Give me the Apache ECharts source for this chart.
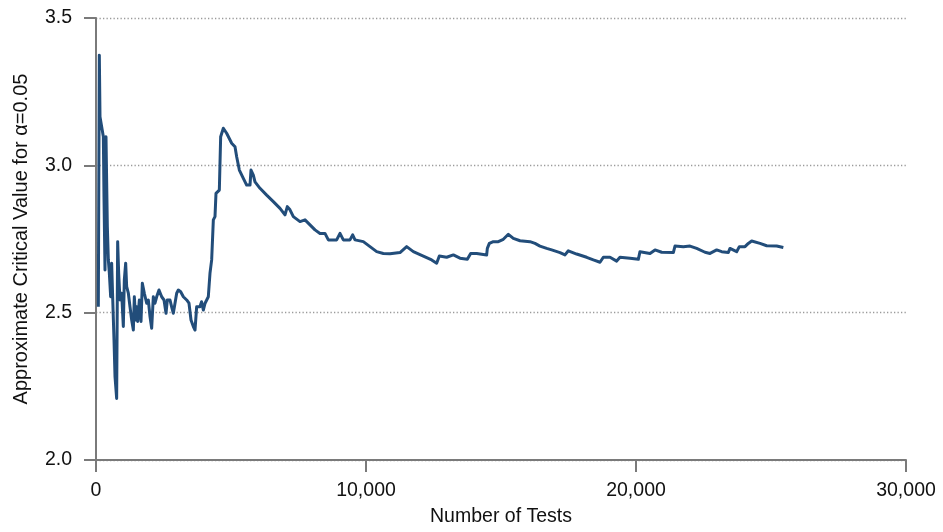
<!DOCTYPE html>
<html>
<head>
<meta charset="utf-8">
<script src="https://cdn.jsdelivr.net/npm/echarts@6/dist/echarts.min.js"></script>
<style>
  html, body { margin: 0; padding: 0; background: #fff; }
  #chart { width: 943px; height: 532px; }
</style>
</head>
<body>
<div id="chart"></div>
<script>
// Number of tests (x) and approximate critical value (y)
const tests = [
  86, 123, 148, 210, 272, 296, 333, 370, 420, 457,
  494, 543, 580, 617, 667, 704, 765, 802, 840, 889,
  951, 1012, 1049, 1099, 1136, 1198, 1259, 1321, 1383, 1420,
  1469, 1506, 1543, 1605, 1667, 1716, 1790, 1877, 1938, 2000,
  2062, 2123, 2185, 2247, 2333, 2432, 2519, 2593, 2642, 2741,
  2802, 2864, 2926, 2988, 3049, 3136, 3235, 3358, 3444, 3519,
  3605, 3667, 3728, 3790, 3850, 3910, 3975, 4040, 4100, 4160,
  4222, 4284, 4346, 4407, 4444, 4568, 4617, 4716, 4839, 5025,
  5148, 5210, 5309, 5457, 5580, 5704, 5741, 5827, 5889, 6074,
  6321, 6568, 6815, 7000, 7086, 7185, 7309, 7556, 7741, 7926,
  8111, 8173, 8296, 8481, 8605, 8914, 9037, 9160, 9407, 9506,
  9593, 9901, 10148, 10395, 10642, 10889, 11259, 11506, 11753, 12123,
  12432, 12617, 12716, 12988, 13235, 13481, 13753, 13877, 14099, 14469,
  14494, 14568, 14716, 14901, 15086, 15272, 15457, 15704, 16074, 16259,
  16444, 16691, 16877, 16938, 17185, 17370, 17494, 17802, 18173, 18420,
  18667, 18790, 19037, 19284, 19407, 19778, 20086, 20148, 20519, 20704,
  20951, 21383, 21444, 21753, 22000, 22247, 22556, 22741, 22988, 23173,
  23420, 23481, 23728, 23827, 24037, 24160, 24284, 24593, 24840, 25210,
  25457
];
const criticalValues = [
  2.520, 3.374, 3.165, 3.131, 3.097, 2.894, 2.645, 3.097, 2.792, 2.679,
  2.634, 2.554, 2.668, 2.554, 2.407, 2.283, 2.209, 2.741, 2.634, 2.543,
  2.566, 2.453, 2.611, 2.668, 2.588, 2.566, 2.520, 2.475, 2.441, 2.554,
  2.475, 2.520, 2.470, 2.543, 2.470, 2.600, 2.566, 2.532, 2.543, 2.487,
  2.447, 2.554, 2.532, 2.554, 2.577, 2.554, 2.543, 2.498, 2.543, 2.543,
  2.520, 2.498, 2.532, 2.566, 2.577, 2.571, 2.554, 2.543, 2.532, 2.475,
  2.453, 2.441, 2.520, 2.525, 2.520, 2.537, 2.509, 2.532, 2.543, 2.554,
  2.634, 2.679, 2.815, 2.826, 2.905, 2.916, 3.097, 3.126, 3.109, 3.075,
  3.063, 3.029, 2.984, 2.956, 2.933, 2.933, 2.984, 2.967, 2.944, 2.922,
  2.899, 2.877, 2.854, 2.832, 2.860, 2.849, 2.826, 2.809, 2.815, 2.798,
  2.781, 2.786, 2.769, 2.769, 2.747, 2.747, 2.769, 2.747, 2.747, 2.764,
  2.747, 2.741, 2.724, 2.707, 2.701, 2.700, 2.704, 2.724, 2.707, 2.692,
  2.679, 2.668, 2.692, 2.688, 2.696, 2.685, 2.681, 2.701, 2.701, 2.696,
  2.718, 2.735, 2.741, 2.741, 2.749, 2.766, 2.752, 2.744, 2.741, 2.735,
  2.726, 2.718, 2.713, 2.718, 2.704, 2.696, 2.710, 2.699, 2.688, 2.679,
  2.671, 2.688, 2.688, 2.675, 2.688, 2.685, 2.681, 2.707, 2.701, 2.713,
  2.705, 2.704, 2.726, 2.724, 2.726, 2.718, 2.705, 2.701, 2.713, 2.707,
  2.704, 2.718, 2.707, 2.724, 2.724, 2.735, 2.743, 2.735, 2.727, 2.726,
  2.721
];
const xTicks = [0, 10000, 20000, 30000];
const yTicks = [2.0, 2.5, 3.0, 3.5];

const n = Math.min(tests.length, criticalValues.length);
const seriesData = [];
for (let i = 0; i < n; i++) seriesData.push([tests[i], criticalValues[i]]);

const FONT = '"Liberation Sans", Arial, Helvetica, sans-serif';
const AXIS_GRAY = '#7a7a7a';

const chart = echarts.init(document.getElementById('chart'), null, { renderer: 'canvas' });
chart.setOption({
  animation: false,
  backgroundColor: '#ffffff',
  grid: { left: 96, right: 37, top: 18, bottom: 72, containLabel: false, outerBoundsMode: 'none' },
  xAxis: {
    type: 'value',
    min: xTicks[0],
    max: xTicks[xTicks.length - 1],
    interval: xTicks[1] - xTicks[0],
    name: 'Number of Tests',
    nameLocation: 'middle',
    nameGap: 47,
    nameTextStyle: { fontFamily: FONT, fontSize: 19.5, color: '#111' },
    axisLine: { show: true, onZero: false, lineStyle: { color: AXIS_GRAY, width: 2 } },
    axisTick: { show: true, inside: false, length: 12, lineStyle: { color: AXIS_GRAY, width: 2 } },
    axisLabel: {
      margin: 21, fontFamily: FONT, fontSize: 19.5, color: '#111',
      formatter: v => String(v).replace(/\B(?=(\d{3})+(?!\d))/g, ',')
    },
    splitLine: { show: false }
  },
  yAxis: {
    type: 'value',
    min: yTicks[0],
    max: yTicks[yTicks.length - 1],
    interval: yTicks[1] - yTicks[0],
    name: 'Approximate Critical Value for \u03b1=0.05',
    nameLocation: 'middle',
    nameGap: 65,
    nameTextStyle: { fontFamily: FONT, fontSize: 20, color: '#111' },
    axisLine: { show: true, onZero: false, lineStyle: { color: AXIS_GRAY, width: 2 } },
    axisTick: { show: true, inside: false, length: 12, lineStyle: { color: AXIS_GRAY, width: 2 } },
    axisLabel: {
      margin: 24, fontFamily: FONT, fontSize: 19.5, color: '#111',
      formatter: v => v.toFixed(1)
    },
    splitLine: { show: true, lineStyle: { color: '#9a9a9a', width: 1.3, type: [1.3, 2.2] } }
  },
  series: [{
    type: 'line',
    data: seriesData,
    showSymbol: false,
    symbol: 'none',
    lineStyle: { color: '#224d7a', width: 3, join: 'round' },
    z: 3
  }]
});
</script>
</body>
</html>
